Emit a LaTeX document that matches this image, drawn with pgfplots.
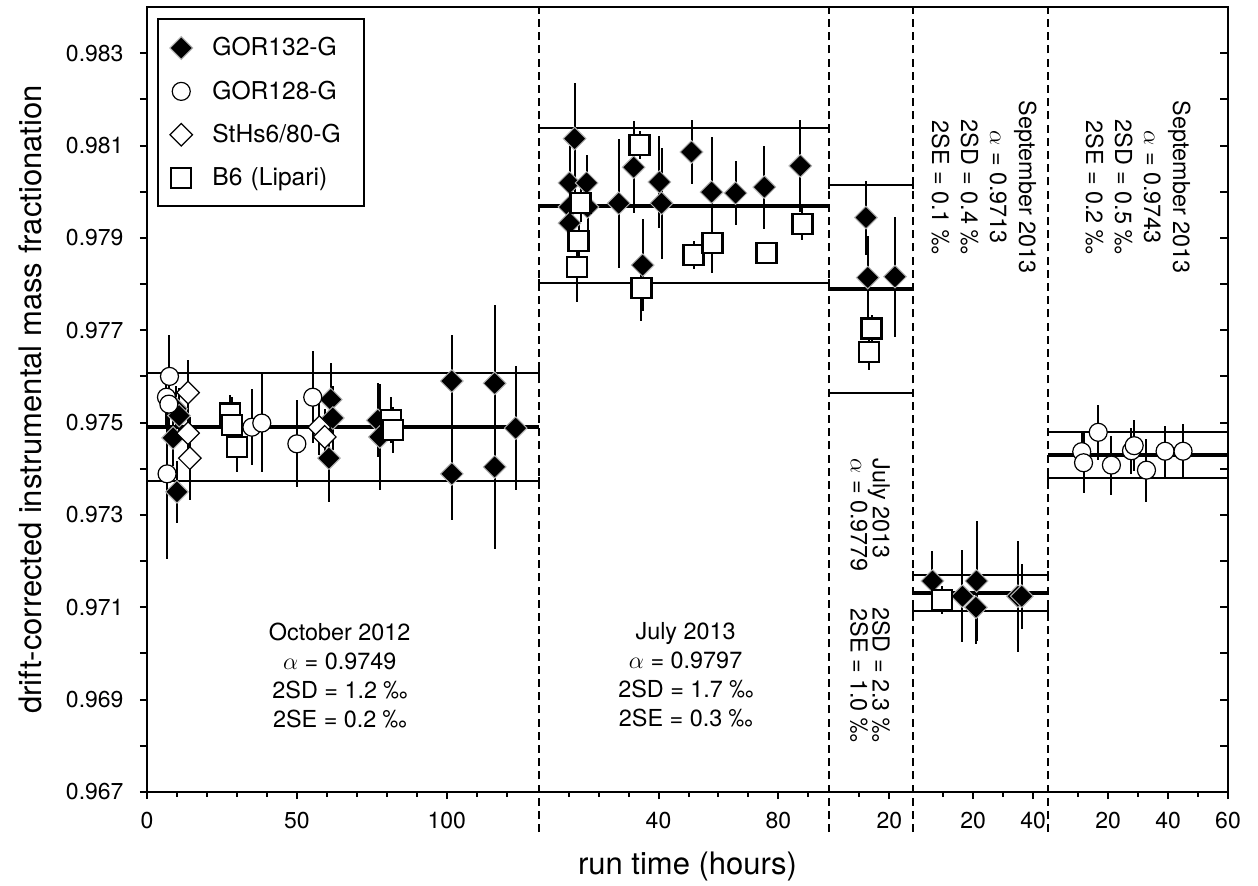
\documentclass[border=0pt]{standalone}
\usepackage{pgfplots}
\pgfplotsset{compat=1.18}
\usepackage{pgfplotstable}
\usepackage{fontspec}
\setmainfont{TeX Gyre Heros}

% s = session (1 Oct 2012, 2-3 Jul 2013, 4-5 Sep 2013), t = run time (h), a = IMF, e = error
\pgfplotstableread{
s t a e
1 8.7 0.97467 0.0006
1 9.7 0.97530 0.0005
1 10.7 0.97515 0.0006
1 10.0 0.97350 0.00067
1 61.3 0.97550 0.0008
1 62.0 0.97510 0.0007
1 60.7 0.97423 0.00095
1 77.0 0.97505 0.0008
1 77.7 0.97469 0.00115
1 101.7 0.97590 0.0010
1 101.7 0.97389 0.0010
1 116.0 0.97585 0.0017
1 116.0 0.97404 0.00178
1 123.0 0.97488 0.00134
2 12.0 0.98115 0.0012
2 10.3 0.98019 0.0008
2 16.0 0.98019 0.0006
2 10.3 0.97967 0.0006
2 16.3 0.97967 0.0006
2 10.3 0.97932 0.0006
2 26.7 0.97975 0.0014
2 31.7 0.98053 0.0010
2 34.7 0.97841 0.0010
2 40.3 0.98021 0.0010
2 41.0 0.97975 0.0012
2 51.0 0.98086 0.0007
2 57.7 0.97999 0.0012
2 65.7 0.97997 0.0007
2 75.3 0.98010 0.0009
2 87.3 0.98056 0.0010
3 12.2 0.97944 0.0008
3 12.8 0.97814 0.0009
3 21.9 0.97816 0.0013
4 6.4 0.97157 0.00065
4 16.4 0.97124 0.0010
4 21.1 0.97157 0.0013
4 20.9 0.97100 0.0008
4 34.9 0.97124 0.0012
4 36.2 0.97124 0.0007
}\gorA

\pgfplotstableread{
s t a e
1 6.7 0.97389 0.00184
1 7.5 0.97600 0.0009
1 6.5 0.97555 0.0006
1 7.3 0.97540 0.0006
1 35.0 0.97490 0.00082
1 38.3 0.97499 0.00106
1 50.0 0.97454 0.00094
1 55.3 0.97555 0.0010
5 11.2 0.97437 0.0004
5 11.8 0.97413 0.00065
5 16.7 0.97479 0.0006
5 21.1 0.97408 0.00064
5 27.8 0.97439 0.0005
5 28.7 0.97450 0.00055
5 32.8 0.97397 0.00068
5 39.0 0.97438 0.00055
5 45.0 0.97438 0.0006
}\gorB

\pgfplotstableread{
s t a e
1 13.7 0.97565 0.0007
1 13.7 0.97477 0.0006
1 14.3 0.97423 0.0009
1 57.5 0.97490 0.0006
1 59.3 0.97469 0.0006
}\sths

\pgfplotstableread{
s t a e
1 27.7 0.97520 0.0004
1 28.3 0.97495 0.0006
1 30.0 0.97447 0.00053
1 81.5 0.97505 0.0005
1 82.0 0.97484 0.0005
2 14.0 0.97975 0.0004
2 13.3 0.97893 0.0004
2 12.7 0.97837 0.00076
2 33.7 0.98101 0.0003
2 34.3 0.97791 0.0007
2 51.7 0.97863 0.0003
2 58.0 0.97889 0.00065
2 76.0 0.97867 0.0002
2 88.0 0.97930 0.00035
3 14.1 0.97704 0.0003
3 13.3 0.97653 0.0004
4 9.6 0.97116 0.0003
}\bsix

% sessions laid side by side on one time axis
\newcommand{\segx}{\thisrow{t}+130.67*(\thisrow{s}==2)+227.67*(\thisrow{s}==3)+255.67*(\thisrow{s}==4)+300.67*(\thisrow{s}==5)}
\newcommand{\annfont}{\fontsize{11.7}{14.5}\selectfont}

\begin{document}
\begin{tikzpicture}
\useasboundingbox (-73.5pt,-46.5pt) rectangle (555.5pt,396pt);
\begin{axis}[scale only axis,width=540.5pt,height=392.5pt,at={(0,0)},anchor=south west,
 xmin=0,xmax=360.67,ymin=0.967,ymax=0.984,clip=false,
 axis line style={line width=1pt},tick style={line width=1pt,black},
 tick align=outside,xtick pos=bottom,ytick pos=left,
 major tick length=3.5pt,minor tick length=2.3pt,
 xtick={0,50,100,170.67,210.67,247.67,275.67,295.67,320.67,340.67,360.67},
 xticklabels={0,50,100,40,80,20,20,40,20,40,60},
 minor xtick={10,20,30,40,60,70,80,90,110,120,140.67,150.67,160.67,180.67,190.67,200.67,220.67,237.67,265.67,285.67,310.67,330.67,350.67},
 ytick={0.967,0.968,0.969,0.970,0.971,0.972,0.973,0.974,0.975,0.976,0.977,0.978,0.979,0.980,0.981,0.982,0.983},
 yticklabels={0.967,,0.969,,0.971,,0.973,,0.975,,0.977,,0.979,,0.981,,0.983},
 /pgf/number format/assume math mode=true,
 tick label style={font=\fontsize{11.5}{13}\selectfont},
 x tick label style={yshift=-3pt},y tick label style={xshift=-4.7pt},
 xlabel={run time (hours)},ylabel={drift-corrected instrumental mass fractionation},
 label style={font=\fontsize{15.5}{18}\selectfont},
 xlabel style={at={(axis description cs:0.5,-0.0955)},anchor=center},
 ylabel style={at={(axis description cs:-0.108,0.5)},anchor=center},
 legend cell align=left,
 legend image code/.code={\draw[#1] plot coordinates {(0.22cm,0cm)}; \path (0cm,0cm) (0.68cm,0cm);},
 legend style={at={(0.009,0.9856)},anchor=north west,draw=black,line width=1pt,
  font=\fontsize{12.3}{14}\selectfont,row sep=7pt,inner xsep=5pt,inner ysep=7pt,
  nodes={text width=69pt}},
 every axis plot/.append style={line width=1pt},
 error bars/error bar style={line width=1pt,black},
]
% session boundaries
\addplot[forget plot,black,line width=0.9pt,dash pattern=on 4pt off 2.6pt] coordinates {(130.67,0.96613) (130.67,0.984)};
\addplot[forget plot,black,line width=0.9pt,dash pattern=on 4pt off 2.6pt] coordinates {(227.67,0.96613) (227.67,0.984)};
\addplot[forget plot,black,line width=0.9pt,dash pattern=on 4pt off 2.6pt] coordinates {(255.67,0.96613) (255.67,0.984)};
\addplot[forget plot,black,line width=0.9pt,dash pattern=on 4pt off 2.6pt] coordinates {(300.67,0.96613) (300.67,0.984)};
% mean and 2SD of each session
\pgfplotsset{sd/.style={forget plot,black,line width=1pt,mark=|,mark size=2pt,mark options={line width=1pt}},
 mean/.style={forget plot,black,line width=2pt}}
\addplot[sd] coordinates {(0,0.97607) (130.67,0.97607)};
\addplot[sd] coordinates {(0,0.97373) (130.67,0.97373)};
\addplot[mean] coordinates {(0,0.9749) (130.67,0.9749)};
\addplot[sd] coordinates {(130.67,0.98137) (227.67,0.98137)};
\addplot[sd] coordinates {(130.67,0.97803) (227.67,0.97803)};
\addplot[mean] coordinates {(130.67,0.9797) (227.67,0.9797)};
\addplot[sd] coordinates {(227.67,0.98015) (255.67,0.98015)};
\addplot[sd] coordinates {(227.67,0.97565) (255.67,0.97565)};
\addplot[mean] coordinates {(227.67,0.9779) (255.67,0.9779)};
\addplot[sd] coordinates {(255.67,0.97169) (300.67,0.97169)};
\addplot[sd] coordinates {(255.67,0.97091) (300.67,0.97091)};
\addplot[mean] coordinates {(255.67,0.9713) (300.67,0.9713)};
\addplot[sd] coordinates {(300.67,0.97479) (360.67,0.97479)};
\addplot[sd] coordinates {(300.67,0.97381) (360.67,0.97381)};
\addplot[mean] coordinates {(300.67,0.9743) (360.67,0.9743)};
% samples
\addplot[only marks,mark=square*,mark size=4pt,mark options={rotate=45,fill=black,draw=gray!60,line width=0.5pt},
 error bars/.cd,y dir=both,y explicit,error mark=none]
 table[x expr=\segx,y=a,y error=e] {\gorA};
\addlegendentry{GOR132-G}
\addplot[only marks,mark=*,mark size=4.5pt,mark options={fill=white,draw=black,line width=0.6pt},
 error bars/.cd,y dir=both,y explicit,error mark=none]
 table[x expr=\segx,y=a,y error=e] {\gorB};
\addlegendentry{GOR128-G}
\addplot[only marks,mark=square*,mark size=4pt,mark options={rotate=45,fill=white,draw=black,line width=0.6pt},
 error bars/.cd,y dir=both,y explicit,error mark=none]
 table[x expr=\segx,y=a,y error=e] {\sths};
\addlegendentry{StHs6/80-G}
\addplot[only marks,mark=square*,mark size=5pt,mark options={fill=white,draw=black,line width=1.2pt},
 error bars/.cd,y dir=both,y explicit,error mark=none]
 table[x expr=\segx,y=a,y error=e] {\bsix};
\addlegendentry{B6 (Lipari)}
% session notes
\node[font=\annfont,align=center] at (axis cs:64.3,0.96953) {October 2012\\$\alpha$ = 0.9749\\2SD = 1.2 ‰\\2SE = 0.2 ‰};
\node[font=\annfont,align=center] at (axis cs:179.7,0.96953) {July 2013\\$\alpha$ = 0.9797\\2SD = 1.7 ‰\\2SE = 0.3 ‰};
\node[font=\fontsize{11.7}{11}\selectfont,align=left,rotate=-90,anchor=west,inner sep=0pt] at (axis cs:241.3,0.97423) {July 2013\\$\alpha$ = 0.9779};
\node[font=\fontsize{11.7}{11}\selectfont,align=right,rotate=-90,anchor=east,inner sep=0pt] at (axis cs:241.3,0.96808) {2SD = 2.3 ‰\\2SE = 1.0 ‰};
\node[font=\annfont,align=center,rotate=-90] at (axis cs:279.3,0.9801) {September 2013\\$\alpha$ = 0.9713\\2SD = 0.4 ‰\\2SE = 0.1 ‰};
\node[font=\annfont,align=center,rotate=-90] at (axis cs:330.7,0.9801) {September 2013\\$\alpha$ = 0.9743\\2SD = 0.5 ‰\\2SE = 0.2 ‰};
\end{axis}
% inward ticks on the right-hand axis
\begin{axis}[scale only axis,width=540.5pt,height=392.5pt,at={(0,0)},anchor=south west,
 xmin=0,xmax=360.67,ymin=0.967,ymax=0.984,
 axis line style={draw=none},xtick=\empty,
 ytick={0.968,0.969,0.970,0.971,0.972,0.973,0.974,0.975,0.976,0.977,0.978,0.979,0.980,0.981,0.982,0.983},
 yticklabels={},ytick pos=right,tick align=inside,major tick length=4pt,
 tick style={line width=1pt,black}]
\end{axis}
\end{tikzpicture}
\end{document}
